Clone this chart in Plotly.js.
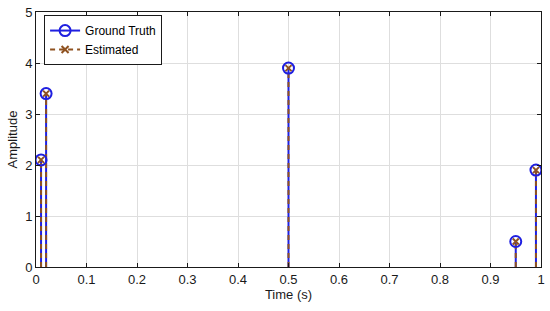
<!DOCTYPE html>
<html>
<head>
<meta charset="utf-8">
<script src="https://cdn.plot.ly/plotly-3.0.1.min.js"></script>
<style>
  html, body { margin: 0; padding: 0; background: #fff; }
  #chart { width: 550px; height: 311px; }
</style>
</head>
<body>
<div id="chart"></div>
<script>
// spike positions (s) and amplitudes
var times = [0.01, 0.02, 0.5, 0.95, 0.99];
var truthAmp = [2.1, 3.4, 3.9, 0.5, 1.9];
var estAmp = [2.1, 3.4, 3.9, 0.5, 1.9];

var xTicks = [0, 0.1, 0.2, 0.3, 0.4, 0.5, 0.6, 0.7, 0.8, 0.9, 1];
var xTickText = ['0', '0.1', '0.2', '0.3', '0.4', '0.5', '0.6', '0.7', '0.8', '0.9', '1'];
var yTicks = [0, 1, 2, 3, 4, 5];

var blue = '#1f1fe0';
var brown = '#8f5220';

// build stem segments: (t,0) -> (t,a), separated by gaps
function stems(ts, as) {
	var sx = [], sy = [];
	for (var i = 0; i < ts.length; i++) {
		sx.push(ts[i], ts[i], null);
		sy.push(0, as[i], null);
	}
	return {x: sx, y: sy};
}

var gt = stems(times, truthAmp);
var est = stems(times, estAmp);

var data = [
	{
		x: gt.x, y: gt.y, type: 'scatter', mode: 'lines',
		line: {color: blue, width: 2},
		showlegend: false, hoverinfo: 'skip'
	},
	{
		x: est.x, y: est.y, type: 'scatter', mode: 'lines',
		line: {color: brown, width: 2, dash: '5px,4px'},
		showlegend: false, hoverinfo: 'skip'
	},
	{
		x: times, y: truthAmp, type: 'scatter', mode: 'markers',
		marker: {symbol: 'circle-open', size: 11, color: blue, line: {width: 2, color: blue}},
		showlegend: false
	},
	{
		x: times, y: estAmp, type: 'scatter', mode: 'markers',
		marker: {symbol: 'x-thin-open', size: 6, color: brown, line: {width: 2, color: brown}},
		showlegend: false
	},
	// legend entries
	{
		x: [null], y: [null], type: 'scatter', mode: 'lines+markers', name: 'Ground Truth',
		line: {color: blue, width: 2},
		marker: {symbol: 'circle-open', size: 11, color: blue, line: {width: 2, color: blue}}
	},
	{
		x: [null], y: [null], type: 'scatter', mode: 'lines+markers', name: 'Estimated',
		line: {color: brown, width: 2, dash: '5px,4px'},
		marker: {symbol: 'x-thin-open', size: 7, color: brown, line: {width: 2, color: brown}}
	}
];

var layout = {
	width: 550,
	height: 311,
	margin: {l: 36, r: 9, t: 12, b: 44},
	paper_bgcolor: '#ffffff',
	plot_bgcolor: '#ffffff',
	font: {family: 'Liberation Sans, Arial, sans-serif', size: 13, color: '#1a1a1a'},
	xaxis: {
		range: [0, 1],
		tickvals: xTicks,
		ticktext: xTickText,
		ticks: 'inside', ticklen: 4, tickcolor: '#1a1a1a',
		showline: true, linecolor: '#1a1a1a', linewidth: 1, mirror: 'ticks',
		showgrid: true, gridcolor: '#dedede',
		zeroline: false,
		title: {text: 'Time (s)', font: {size: 13}, standoff: 4}
	},
	yaxis: {
		range: [0, 5],
		tickvals: yTicks,
		ticks: 'inside', ticklen: 4, tickcolor: '#1a1a1a',
		showline: true, linecolor: '#1a1a1a', linewidth: 1, mirror: 'ticks',
		showgrid: true, gridcolor: '#dedede',
		zeroline: false,
		title: {text: 'Amplitude', font: {size: 13}, standoff: 4}
	},
	legend: {
		x: 0.016, y: 0.988, xanchor: 'left', yanchor: 'top',
		bgcolor: '#ffffff', bordercolor: '#1a1a1a', borderwidth: 1,
		font: {size: 12, color: '#000'},
		tracegroupgap: 0
	},
	showlegend: true
};

Plotly.newPlot('chart', data, layout, {displayModeBar: false, staticPlot: true});
</script>
</body>
</html>
